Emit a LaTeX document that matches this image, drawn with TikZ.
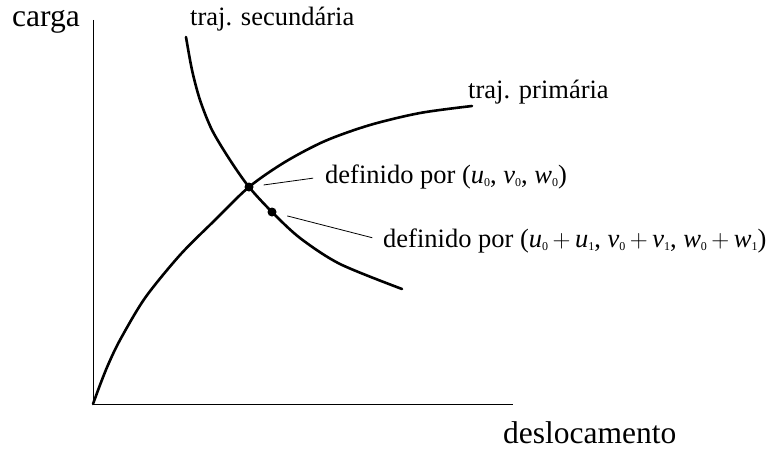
\documentclass[tikz,border=0pt]{standalone}
\usepackage{fontspec}
\setmainfont{Liberation Serif}
\usetikzlibrary{positioning}
\newcommand\ix[1]{\raisebox{-3pt}{\fontsize{12}{12}\selectfont #1}}
\newcommand\pls{\hspace{0.17em}$+$\hspace{0.17em}}

\begin{document}
\begin{tikzpicture}[x=1pt,y=-1pt,
  axis/.style={line width=1pt},
  traj/.style={line width=2.6pt,line cap=round},
  dot/.style={circle,fill=black,inner sep=0pt,minimum size=9pt},
  leader/.style={line width=0.8pt},
  lbl/.style={inner sep=0pt,anchor=base west,font=\fontsize{26.5}{30}\selectfont},
  axlbl/.style={inner sep=0pt,anchor=base west,font=\fontsize{31.5}{36}\selectfont}
]
  \useasboundingbox (0,0) rectangle (773,452);
  % axes
  \coordinate (ytop) at (93,20);
  \coordinate (orig) at (93,404);
  \coordinate (xend) at (513,404);
  \draw[axis] (ytop) -- (orig) -- (xend);
  \node[axlbl] (carga) at (12,27) {carga};
  \node[axlbl] (desl)  at (503,443) {deslocamento};
  % trajectories
  \draw[traj] plot[smooth] coordinates {(93,404) (100,385) (108,365) (120,340)
    (145,298) (180,255) (215,220) (249,187) (285,162) (325,141) (370,125)
    (420,113) (472,106)};
  \draw[traj] plot[smooth] coordinates {(186,37) (192,70) (200,100) (212,130)
    (230,160) (249,187) (272,212) (300,238) (340,264) (402,289)};
  \node[lbl] (prim) at (468,98) {traj. primária};
  \node[lbl] (sec)  at (190,26) {traj. secundária};
  % points
  \node[dot] (p0) at (249,187) {};
  \node[dot] (p1) at (272,212) {};
  \node[lbl] (def0) at (325,183)
    {definido por (\textit{u}\ix{0}, \textit{v}\ix{0}, \textit{w}\ix{0})};
  \node[lbl] (def1) at (383,247)
    {definido por (\textit{u}\ix{0}\pls\textit{u}\ix{1}, \textit{v}\ix{0}\pls\textit{v}\ix{1}, \textit{w}\ix{0}\pls\textit{w}\ix{1})};
  \draw[leader,shorten <=10pt,shorten >=12pt] (p0) -- (def0.west);
  \draw[leader,shorten <=11pt,shorten >=11pt] (p1) -- (def1.west);
\end{tikzpicture}
\end{document}
